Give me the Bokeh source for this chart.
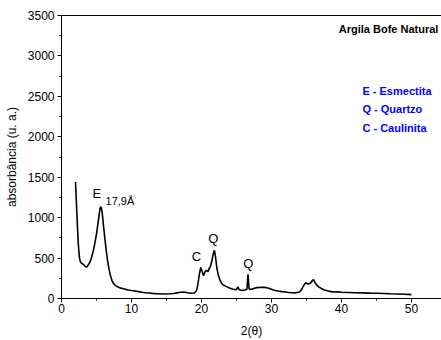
from bokeh.plotting import figure
from bokeh.models import LinearAxis, SingleIntervalTicker, FixedTicker, Range1d, Label
from bokeh.embed import file_html
from bokeh.resources import INLINE

# ---- data ----
two_theta = [2.0, 2.1, 2.2, 2.3, 2.4, 2.5, 2.6, 2.7, 2.8, 3.0, 3.2, 3.4, 3.6, 3.8,
             4.0, 4.2, 4.4, 4.6, 4.8, 5.0, 5.2, 5.4, 5.5, 5.6, 5.7, 5.8, 5.9, 6.0,
             6.2, 6.4, 6.6, 6.8, 7.0, 7.2, 7.4, 7.6, 7.8, 8.0, 8.5, 9.0, 9.5, 10.0,
             10.5, 11.0, 11.5, 12.0, 12.5, 13.0, 13.5, 14.0, 14.5, 15.0, 15.5, 16.0,
             16.5, 17.0, 17.5, 18.0, 18.5, 19.0, 19.3, 19.5, 19.7, 19.9, 20.1, 20.3,
             20.5, 20.7, 20.9, 21.1, 21.3, 21.5, 21.7, 21.85, 22.0, 22.2, 22.4, 22.6,
             22.8, 23.0, 23.5, 24.0, 24.5, 25.0, 25.2, 25.4, 25.8, 26.2, 26.5, 26.65,
             26.8, 27.0, 27.5, 28.0, 28.5, 29.0, 29.5, 30.0, 30.5, 31.0, 31.5, 32.0,
             32.5, 33.0, 33.5, 34.0, 34.3, 34.6, 34.9, 35.2, 35.5, 35.8, 36.0, 36.2,
             36.5, 36.8, 37.2, 37.6, 38.0, 38.5, 39.0, 39.5, 40.0, 41.0, 42.0, 43.0,
             44.0, 45.0, 46.0, 47.0, 48.0, 49.0, 50.0]
intensity = [1440, 1250, 1050, 850, 680, 560, 490, 455, 440, 430, 415, 395, 390, 410,
             440, 480, 540, 610, 700, 800, 920, 1050, 1110, 1135, 1120, 1070, 990, 900,
             740, 590, 460, 360, 280, 225, 190, 170, 155, 145, 128, 118, 105, 98,
             92, 85, 78, 72, 68, 63, 60, 58, 55, 56, 58, 62,
             70, 78, 80, 72, 65, 68, 95, 180, 300, 385, 330, 280,
             330, 350, 330, 370, 400, 470, 560, 595, 520, 380, 290, 240,
             200, 175, 150, 130, 115, 110, 145, 108, 100, 105, 115, 300,
             120, 110, 125, 135, 140, 138, 130, 115, 100, 92, 85, 80,
             75, 72, 70, 80, 110, 160, 195, 180, 185, 215, 235, 200,
             165, 140, 120, 105, 95, 85, 80, 82, 78, 75, 72, 70,
             67, 65, 62, 58, 55, 52, 48]

x_ticks_interval = 10
y_ticks_interval = 500
title_text = "Argila Bofe Natural"
legend_lines = ["E - Esmectita", "Q - Quartzo", "C - Caulinita"]
legend_y = [2571, 2349, 2114]
peak_labels = ["C", "Q", "Q"]
peak_x = [19.29, 21.71, 26.71]
peak_y = [519, 742, 433]

FONT = "Liberation Sans"

p = figure(width=441, height=340, output_backend="svg", toolbar_location=None,
           x_range=Range1d(0, 54.3), y_range=Range1d(0, 3500),
           min_border_left=61, min_border_right=0, min_border_top=15,
           min_border_bottom=42)
p.grid.visible = False
p.outline_line_color = None
p.background_fill_color = "white"
p.border_fill_color = "white"

p.line(two_theta, intensity, line_color="black", line_width=1.6)

xa = p.xaxis[0]
xa.ticker = SingleIntervalTicker(interval=x_ticks_interval, num_minor_ticks=2)
ya = p.yaxis[0]
ya.ticker = SingleIntervalTicker(interval=y_ticks_interval, num_minor_ticks=2)
for ax in (xa, ya):
    ax.axis_line_color = "black"
    ax.axis_line_width = 1
    ax.major_tick_in = 0
    ax.major_tick_out = 4
    ax.minor_tick_in = 0
    ax.minor_tick_out = 2
    ax.major_tick_line_color = "black"
    ax.minor_tick_line_color = "black"
    ax.major_label_text_font = FONT
    ax.major_label_text_font_size = "12px"
    ax.major_label_text_color = "black"
    ax.axis_label_text_font = FONT
    ax.axis_label_text_font_size = "12px"
    ax.axis_label_text_font_style = "normal"
    ax.axis_label_text_color = "black"
xa.axis_label = "2(θ)"
xa.axis_label_standoff = 8
xa.major_label_standoff = 1
ya.axis_label = "absorbância (u. a.)"
ya.axis_label_standoff = 6
ya.major_label_standoff = 3

top = LinearAxis(ticker=FixedTicker(ticks=[]), axis_line_color="black",
                 major_tick_line_color=None, minor_tick_line_color=None)
p.add_layout(top, "above")

p.add_layout(Label(x=53.86, y=3337, text=title_text, text_align="right",
                   text_baseline="middle", text_font=FONT, text_font_size="11px",
                   text_font_style="bold", text_color="black"))
for t, yy in zip(legend_lines, legend_y):
    p.add_layout(Label(x=43.0, y=yy, text=t, text_align="left",
                       text_baseline="middle", text_font=FONT, text_font_size="11px",
                       text_font_style="bold", text_color="#0000FF"))

p.add_layout(Label(x=4.43, y=1298, text="E", text_align="left",
                   text_baseline="middle", text_font=FONT, text_font_size="13px",
                   text_color="black"))
p.add_layout(Label(x=6.29, y=1211, text="17,9Å", text_align="left",
                   text_baseline="middle", text_font=FONT, text_font_size="11px",
                   text_color="black"))
for t, xx, yy in zip(peak_labels, peak_x, peak_y):
    p.add_layout(Label(x=xx, y=yy, text=t, text_align="center",
                       text_baseline="middle", text_font=FONT, text_font_size="13px",
                       text_color="black"))

open("out.html", "w").write(file_html(p, INLINE))
